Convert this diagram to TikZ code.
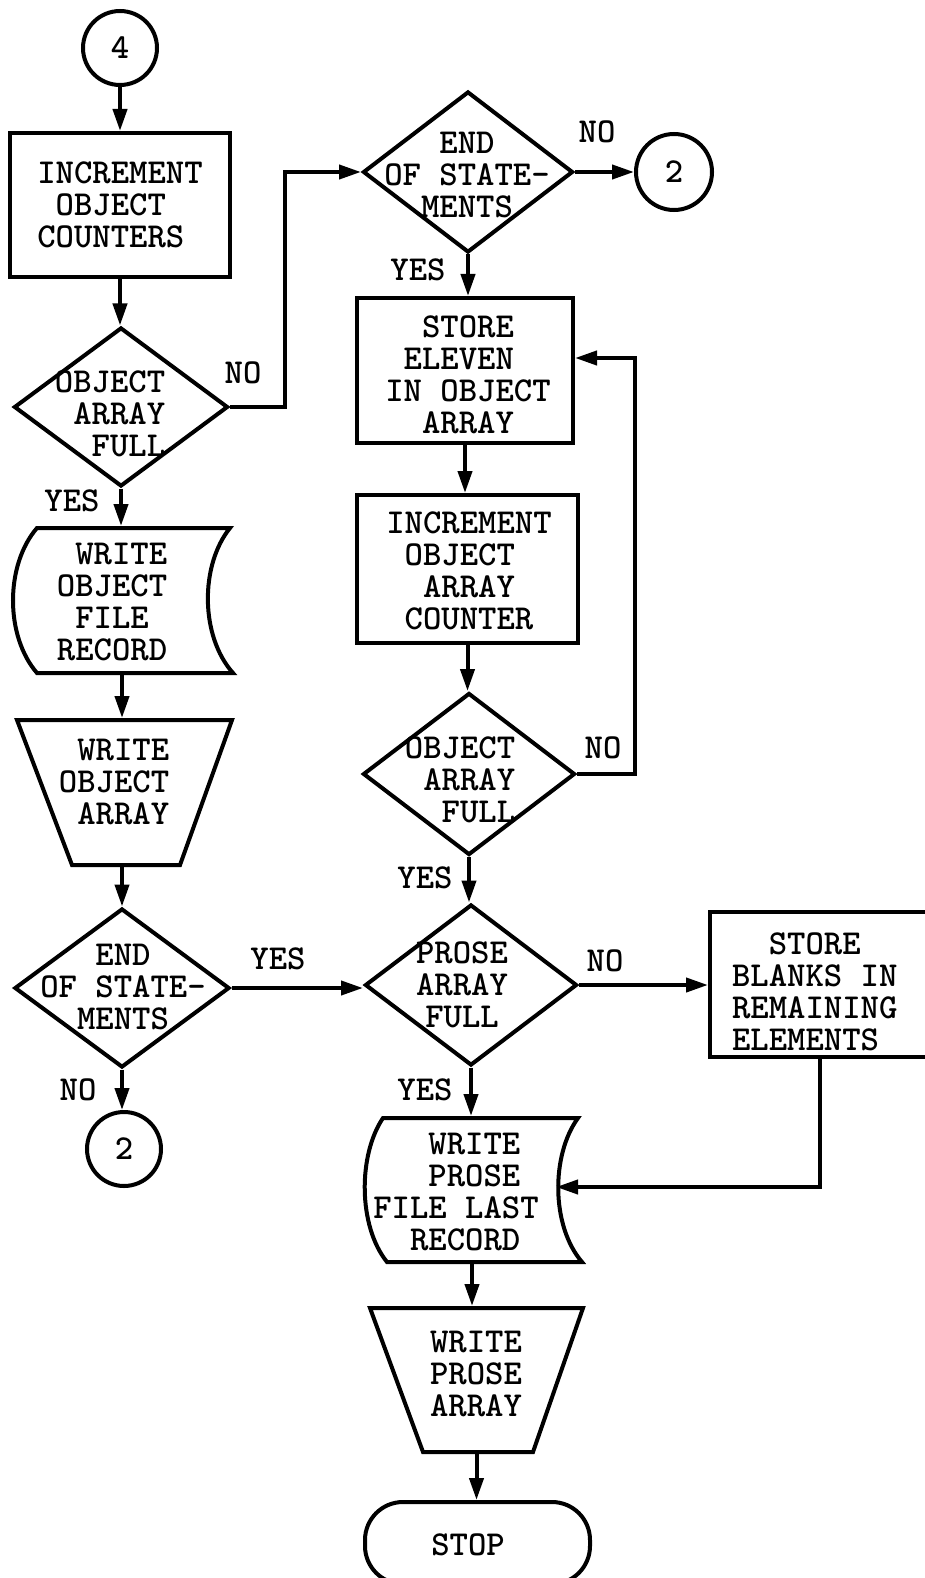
\documentclass[tikz,border=0pt]{standalone}
\usepackage{fontspec}
\usetikzlibrary{shapes.geometric,arrows.meta,calc}
\newcommand\bk{\phantom{X}}
\begin{document}
\begin{tikzpicture}[x=1pt,y=-1pt,line width=4pt,
  every node/.style={font=\fontsize{35}{32}\selectfont\ttfamily\bfseries},
  box/.style={draw,rectangle,inner sep=0pt},
  dia/.style={draw,diamond,inner sep=0pt},
  conn/.style={draw,circle,inner sep=0pt,minimum size=74pt},
  ghost/.style={rectangle,inner sep=0pt},
  txt/.style={align=left,inner sep=0pt},
  ctxt/.style={align=center,inner sep=0pt},
  lbl/.style={inner sep=0pt},
  arr/.style={-{Triangle[length=22pt,width=14pt]}}]
\useasboundingbox (0,0) rectangle (924,1578);

% ---------- left column ----------
\node[conn] (c4) at (120,48) {4};
\node[box,minimum width=220pt,minimum height=144pt,align=left] (r1) at (120,205) {INCREMENT\\\bk OBJECT\\COUNTERS};
\node[dia,minimum width=214pt,minimum height=159pt] (d1) at (121,407) {};
\node[txt] at (110,414) {OBJECT\\\bk ARRAY\\\bk\bk FULL};

\draw (37,528) -- (230,528) .. controls (200,565) and (200,636) .. (233,673)
      -- (37,673) .. controls (5,636) and (5,565) .. cycle;
\node[ghost,minimum width=196pt,minimum height=145pt] (k1) at (122,600.5) {};
\node[txt] at (112,602) {\bk WRITE\\OBJECT\\\bk FILE\\RECORD};

\draw (17,720) -- (232,720) -- (180,865) -- (72,865) -- cycle;
\node[ghost,minimum width=215pt,minimum height=145pt] (t1) at (122,792.5) {};
\node[txt] at (114,782) {\bk WRITE\\OBJECT\\\bk ARRAY};

\node[dia,minimum width=215pt,minimum height=159pt] (d4) at (122,988) {};
\node[ctxt] at (123,987) {END\\OF STATE-\\MENTS};
\node[conn] (c2b) at (124,1149) {2};

% ---------- right column ----------
\node[dia,minimum width=210pt,minimum height=161pt] (dE) at (468,172) {};
\node[ctxt] at (467,175) {END\\OF STATE-\\MENTS};
\node[conn,minimum size=76pt] (c2a) at (674,172) {2};

\node[box,minimum width=216pt,minimum height=145pt] (rS) at (465,370.5) {};
\node[txt] at (468,375) {\bk\bk STORE\\\bk ELEVEN\\IN OBJECT\\\bk\bk ARRAY};

\node[box,minimum width=221pt,minimum height=148pt] (rI) at (467.5,569) {};
\node[txt] at (469,571) {INCREMENT\\\bk OBJECT\\\bk\bk ARRAY\\\bk COUNTER};

\node[dia,minimum width=212pt,minimum height=162pt] (d2) at (469,774) {};
\node[txt] at (460,780) {OBJECT\\\bk ARRAY\\\bk\bk FULL};

\node[dia,minimum width=212pt,minimum height=161pt] (d3) at (471,985) {};
\node[ctxt] at (462,985) {PROSE\\ARRAY\\FULL};

\node[box,minimum width=225pt,minimum height=145pt] (rB) at (822.5,984.5) {};
\node[txt,anchor=west] at (730,992) {\bk\bk STORE\\BLANKS IN\\REMAINING\\ELEMENTS};

\draw (383,1118) -- (578,1118) .. controls (551,1155) and (551,1226) .. (582,1262)
      -- (387,1262) .. controls (358,1226) and (358,1155) .. cycle;
\node[ghost,minimum width=196pt,minimum height=144pt] (k2) at (472,1190) {};
\coordinate (k2in) at (556,1187);
\node[txt] at (456,1192) {\bk\bk\bk WRITE\\\bk\bk\bk PROSE\\FILE LAST\\\bk\bk RECORD};

\draw (370,1308) -- (583,1308) -- (533,1452) -- (423,1452) -- cycle;
\node[ghost,minimum width=213pt,minimum height=144pt] (t2) at (476.5,1380) {};
\node[ctxt] at (476,1374) {WRITE\\PROSE\\ARRAY};

\node[draw,rectangle,rounded corners=38pt,minimum width=225pt,minimum height=82pt,inner sep=0pt] (stop) at (477.5,1543) {};
\node[lbl] at (468,1545) {STOP};

% ---------- connectors ----------
\coordinate (j1) at (285,300);
\coordinate (j2) at (820,0);
\coordinate (lp) at (635,358);

\draw[arr] (c4.south) -- (c4.south |- r1.north);
\draw[arr] (r1.south) -- (r1.south |- d1.north);
\draw[arr] (d1.south) -- (d1.south |- k1.north);
\draw[arr] (k1.south) -- (k1.south |- t1.north);
\draw[arr] (t1.south) -- (t1.south |- d4.north);
\draw[arr] (d4.south) -- (d4.south |- c2b.north);

\draw[arr] (d1.east) -- (d1.east -| j1) |- (dE.west);
\draw[arr] (dE.east) -- (c2a.west);
\draw[arr] (dE.south) -- (dE.south |- rS.north);
\draw[arr] (rS.south) -- (rS.south |- rI.north);
\draw[arr] (rI.south) -- (rI.south |- d2.north);
\draw[arr] (d2.east) -| (lp) -- (lp -| rS.east);
\draw[arr] (d2.south) -- (d2.south |- d3.north);
\draw[arr] (d4.east) -- (d4.east -| d3.west);
\draw[arr] (d3.east) -- (d3.east -| rB.west);
\draw[arr] (d3.south) -- (d3.south |- k2.north);
\draw[arr] (rB.south -| j2) |- (k2in);
\draw[arr] (k2.south) -- (k2.south |- t2.north);
\draw[arr] (t2.south) -- (t2.south |- stop.north);

% ---------- labels ----------
\node[lbl] at (243,373) {NO};
\node[lbl] at (72,501) {YES};
\node[lbl] at (597,132) {NO};
\node[lbl] at (418,270) {YES};
\node[lbl] at (603,748) {NO};
\node[lbl] at (425,878) {YES};
\node[lbl] at (278,959) {YES};
\node[lbl] at (78,1090) {NO};
\node[lbl] at (605,961) {NO};
\node[lbl] at (425,1090) {YES};
\end{tikzpicture}
\end{document}
